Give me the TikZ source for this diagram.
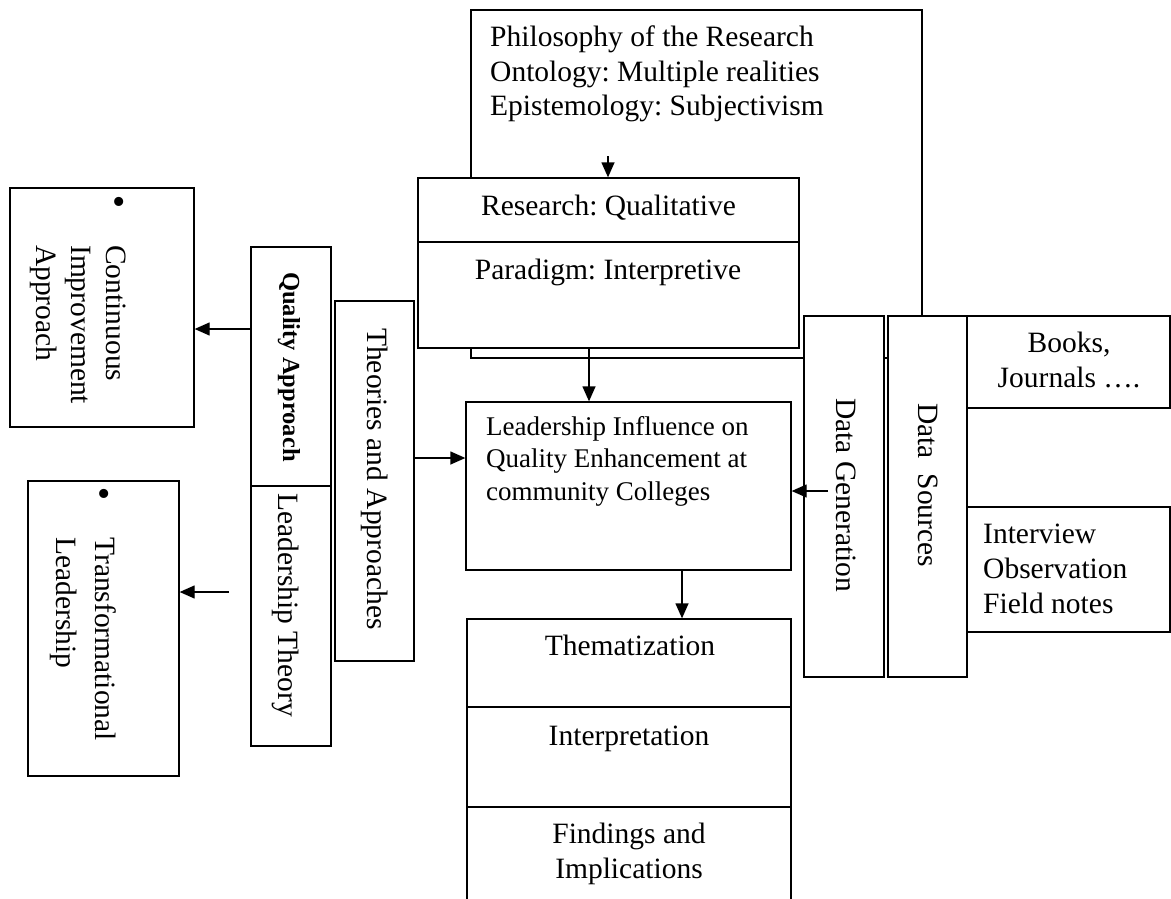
\documentclass[tikz,border=0pt]{standalone}
\usepackage{fontspec}
\setmainfont{Liberation Serif}
\usetikzlibrary{arrows.meta}
\frenchspacing
\newcommand\mylstack[2]{\vtop{\baselineskip=#1\relax\halign{##\hfil\cr#2\crcr}}}
\newcommand\mycstack[2]{\vtop{\baselineskip=#1\relax\halign{\hfil##\hfil\cr#2\crcr}}}
\begin{document}
\begin{tikzpicture}[x=1pt,y=-1pt,
  box/.style={draw=black,line width=1.3pt,fill=white,inner sep=0pt},
  emptybox/.style={draw=black,line width=1.3pt,inner sep=0pt},
  txt/.style={inner sep=0pt,font=\fontsize{29.5}{34}\selectfont\frenchspacing},
  smalltxt/.style={inner sep=0pt,font=\fontsize{27}{32.5}\selectfont\frenchspacing},
  boldtxt/.style={inner sep=0pt,font=\fontsize{24.5}{28}\selectfont\bfseries},
  bulltxt/.style={inner sep=0pt,font=\fontsize{38}{40}\selectfont},
  vtxt/.style={txt,rotate=-90,anchor=base west},
  arr/.style={line width=1.3pt,-{Triangle[length=15pt,width=13pt]}}]
\useasboundingbox (0,0) rectangle (1171,899);
\clip (0,0) rectangle (1171,899);
\newcommand\bx[6][box]{\node[#1,minimum width={(#4)-(#2)},minimum height={(#5)-(#3)}] (#6) at ({((#2)+(#4))/2},{((#3)+(#5))/2}) {};}
% philosophy (behind)
\bx[emptybox]{471}{10}{922}{358}{phil}
\node[txt,anchor=base west] (philtxt) at (490,47) {\mylstack{34.5pt}{Philosophy of the Research\cr Ontology: Multiple realities\cr Epistemology: Subjectivism}};
% research / paradigm
\bx{418}{178}{799}{242}{research}
\bx{418}{242}{799}{348}{paradigm}
\node[txt,anchor=base] (restxt) at (608.5,215) {Research: Qualitative};
\node[txt,anchor=base] (partxt) at (608,279) {Paradigm: Interpretive};
% central
\bx{466}{402}{791}{570}{lead}
\node[smalltxt,anchor=base west] (leadtxt) at (486,435) {\mylstack{32.5pt}{Leadership Influence on\cr Quality Enhancement at\cr community Colleges}};
\bx{467}{619}{791}{707}{them}
\bx{467}{707}{791}{807}{interp}
\bx{467}{807}{791}{915}{find}
\node[txt,anchor=base] (themtxt) at (630,655.5) {Thematization};
\node[txt,anchor=base] (interptxt) at (629,745.5) {Interpretation};
\node[txt,anchor=base] (findtxt) at (629,843) {\mycstack{35pt}{Findings and\cr Implications}};
% left side
\bx{251}{247}{331}{486}{qual}
\bx{251}{486}{331}{746}{ltheory}
\bx{335}{301}{414}{661}{theories}
\node[boldtxt,rotate=-90,anchor=base west] (qualtxt) at (283,272) {Quality Approach};
\node[vtxt] (ltheorytxt) at (278,493) {Leadership Theory};
\node[vtxt] (theoriestxt) at (367,328) {Theories and Approaches};
\bx{10}{188}{194}{427}{cont}
\node[bulltxt] (bull1) at (119,206) {\textbullet};
\node[vtxt] (conttxt) at (106,245) {\mylstack{35pt}{Continuous\cr Improvement\cr Approach}};
\bx{28}{481}{179}{776}{trans}
\node[bulltxt] (bull2) at (104,498) {\textbullet};
\node[vtxt] (transtxt) at (95,537) {\mylstack{39pt}{Transformational\cr Leadership}};
% right side
\bx{804}{316}{884}{677}{dgen}
\bx{888}{316}{967}{677}{dsrc}
\node[vtxt] (dgentxt) at (836,398) {Data Generation};
\node[vtxt] (dsrctxt) at (918,403) {Data\ \ Sources};
\bx{967}{316}{1170}{408}{books}
\bx{967}{507}{1170}{632}{intv}
\node[txt,anchor=base] (bookstxt) at (1069,352.5) {\mycstack{34.5pt}{Books,\cr Journals ….}};
\node[txt,anchor=base west] (intvtxt) at (983,543) {\mylstack{35pt}{Interview\cr Observation\cr Field notes}};
% connector helper coordinates
\coordinate (phistart) at (608,156);
\coordinate (xpar) at (589,0);
\coordinate (xthem) at (682,0);
\coordinate (ytheo) at (0,458);
\coordinate (dgenstart) at (828,491);
\coordinate (yqual) at (0,329);
\coordinate (transstart) at (229,592);
% connectors
\draw[arr] (phistart) -- (phistart |- research.north);
\draw[arr] (xpar |- paradigm.south) -- (xpar |- lead.north);
\draw[arr] (theories.east |- ytheo) -- (lead.west |- ytheo);
\draw[arr] (dgenstart) -- (lead.east |- dgenstart);
\draw[arr] (xthem |- lead.south) -- (xthem |- them.north);
\draw[arr] (qual.west |- yqual) -- (cont.east |- yqual);
\draw[arr] (transstart) -- (trans.east |- transstart);
\end{tikzpicture}
\end{document}
